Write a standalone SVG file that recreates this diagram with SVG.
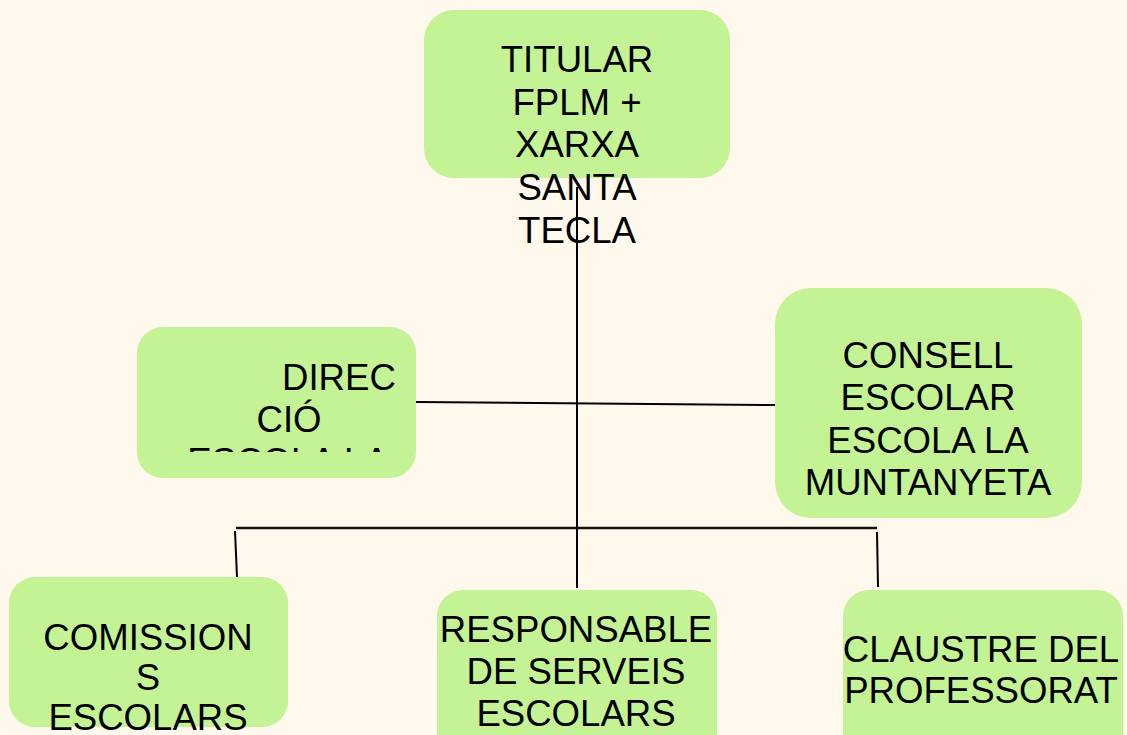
<svg xmlns="http://www.w3.org/2000/svg" width="1127" height="735" viewBox="0 0 1127 735">
<style>
.box{fill:#C3F394;}
.t{font-family:"Liberation Sans",Arial,sans-serif;font-size:36.6px;fill:#000;text-anchor:middle;}
.ts{font-family:"Liberation Sans",Arial,sans-serif;font-size:36.6px;fill:#000;text-anchor:start;}
.ln{stroke:#000;stroke-width:2;fill:none;}
.bar{stroke:#111;stroke-width:2.5;fill:none;}
</style>
<defs>
<clipPath id="clipDir"><rect x="137" y="327" width="279" height="125"/></clipPath>
</defs>
<rect width="1127" height="735" fill="#FFF8EC"/>
<g id="titular">
<rect class="box" x="424" y="10" width="306" height="168" rx="30"/>
<text class="t" x="577" y="72">TITULAR</text>
<text class="t" x="577" y="115">FPLM +</text>
<text class="t" x="577" y="157">XARXA</text>
<text class="t" x="577" y="200">SANTA</text>
<text class="t" x="577" y="243">TECLA</text>
</g>
<g id="direccio">
<rect class="box" x="137" y="327" width="279" height="151" rx="26"/>
<g clip-path="url(#clipDir)">
<text class="ts" x="282" y="390">DIREC</text>
<text class="t" x="289" y="432">CIÓ</text>
<text class="t" x="288" y="474">ESCOLA LA</text>
</g>
</g>
<g id="consell">
<rect class="box" x="775" y="288" width="307" height="230" rx="36"/>
<text class="t" x="928" y="368">CONSELL</text>
<text class="t" x="928" y="410">ESCOLAR</text>
<text class="t" x="928" y="453">ESCOLA LA</text>
<text class="t" x="928" y="495">MUNTANYETA</text>
</g>
<g id="comissions">
<rect class="box" x="9" y="577" width="279" height="150" rx="26"/>
<text class="t" x="148" y="650">COMISSION</text>
<text class="t" x="148" y="690">S</text>
<text class="t" x="148" y="730">ESCOLARS</text>
</g>
<g id="responsable">
<rect class="box" x="437" y="590" width="280" height="170" rx="26"/>
<text class="t" x="576" y="642">RESPONSABLE</text>
<text class="t" x="576" y="684">DE SERVEIS</text>
<text class="t" x="576" y="726">ESCOLARS</text>
</g>
<g id="claustre">
<rect class="box" x="843" y="590" width="280" height="170" rx="26"/>
<text class="t" x="981" y="662">CLAUSTRE DEL</text>
<text class="t" x="981" y="703">PROFESSORAT</text>
</g>
<g id="connectors">
<line class="ln" x1="577" y1="187" x2="577" y2="588"/>
<line class="ln" x1="416" y1="402" x2="775" y2="405"/>
<line class="bar" x1="236" y1="528" x2="877" y2="528"/>
<line class="ln" x1="235" y1="531" x2="237" y2="577"/>
<line class="ln" x1="877" y1="532" x2="878" y2="587"/>
</g>
</svg>
